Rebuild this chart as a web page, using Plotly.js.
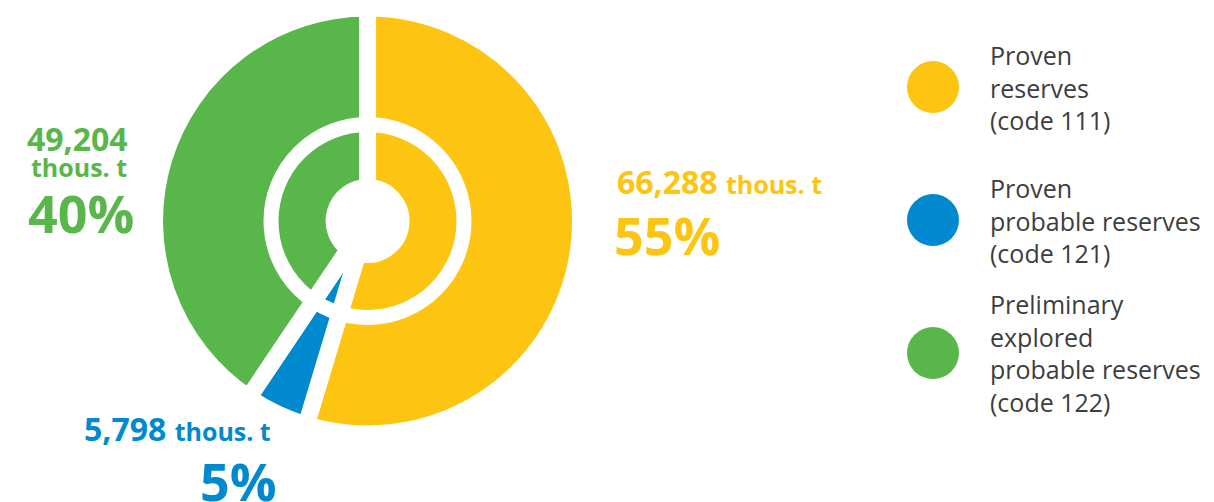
<!DOCTYPE html>
<html><head><meta charset="utf-8">
<script src="https://cdn.plot.ly/plotly-3.0.1.min.js"></script>
<style>html,body{margin:0;padding:0;background:#fff}#chart{width:1214px;height:502px}</style>
</head><body><div id="chart"></div>
<script>
const categories = ["Proven<br>reserves<br>(code 111)", "Proven<br>probable reserves<br>(code 121)", "Preliminary<br>explored<br>probable reserves<br>(code 122)"];
const valuesThousT = [66288, 5798, 49204];
const percents = [55, 5, 40];
const colors = ["#FEC412", "#0089CF", "#59B64B"];
const unit = "thous. t";

const fmt = v => v.toLocaleString("en-US");
const W = 1214, H = 502;
const px = x => x / W, py = y => 1 - y / H;

const pie = {
  type: "pie",
  values: valuesThousT,
  labels: categories,
  sort: false,
  direction: "clockwise",
  rotation: 0,
  hole: 0.157,
  textinfo: "none",
  hoverinfo: "none",
  showlegend: false,
  marker: { colors: colors, line: { color: "#ffffff", width: 17 } },
  domain: { x: [0.1273, 0.4782], y: [0.1355, 0.9841] }
};

const legendPts = {
  type: "scatter",
  mode: "markers",
  x: categories.map(() => 0),
  y: categories.map((c, i) => i),
  marker: { color: colors, size: 52 },
  hoverinfo: "none",
  showlegend: false,
  cliponaxis: false,
  xaxis: "x", yaxis: "y"
};

const F = "'Open Sans', 'Noto Sans', sans-serif";
const annotations = [];
// legend texts
categories.forEach((c, i) => {
  annotations.push({
    xref: "x", yref: "y", x: 0, y: i, xanchor: "left", yanchor: "middle",
    xshift: 55, text: c, align: "left", showarrow: false,
    font: { family: F, size: 25, color: "#3d3d3d" }
  });
});
// value labels
// yellow
annotations.push({ xref: "paper", yref: "paper", x: px(615), y: py(181), xanchor: "left", yanchor: "middle", showarrow: false,
  text: `<b>${fmt(valuesThousT[0])}</b> <b><span style="font-size:25px">${unit}</span></b>`,
  font: { family: F, size: 32, color: colors[0] } });
annotations.push({ xref: "paper", yref: "paper", x: px(612), y: py(234), xanchor: "left", yanchor: "middle", showarrow: false,
  text: `<b>${percents[0]}%</b>`, font: { family: F, size: 52, color: colors[0] } });
// green
annotations.push({ xref: "paper", yref: "paper", x: px(77), y: py(138), xanchor: "center", yanchor: "middle", showarrow: false,
  text: `<b>${fmt(valuesThousT[2])}</b>`, font: { family: F, size: 32, color: colors[2] } });
annotations.push({ xref: "paper", yref: "paper", x: px(79), y: py(167), xanchor: "center", yanchor: "middle", showarrow: false,
  text: `<b>${unit}</b>`, font: { family: F, size: 25, color: colors[2] } });
annotations.push({ xref: "paper", yref: "paper", x: px(81), y: py(212), xanchor: "center", yanchor: "middle", showarrow: false,
  text: `<b>${percents[2]}%</b>`, font: { family: F, size: 52, color: colors[2] } });
// blue
annotations.push({ xref: "paper", yref: "paper", x: px(82), y: py(428), xanchor: "left", yanchor: "middle", showarrow: false,
  text: `<b>${fmt(valuesThousT[1])}</b> <b><span style="font-size:25px">${unit}</span></b>`,
  font: { family: F, size: 32, color: colors[1] } });
annotations.push({ xref: "paper", yref: "paper", x: px(238), y: py(480), xanchor: "center", yanchor: "middle", showarrow: false,
  text: `<b>${percents[1]}%</b>`, font: { family: F, size: 52, color: colors[1] } });

const layout = {
  width: W, height: H,
  margin: { l: 0, r: 0, t: 0, b: 0 },
  paper_bgcolor: "#ffffff", plot_bgcolor: "rgba(0,0,0,0)",
  showlegend: false,
  xaxis: { domain: [850 / W, 1], range: [-1, 3.386], visible: false, fixedrange: true },
  yaxis: { domain: [0.1643, 0.959], range: [2.5, -0.5], visible: false, fixedrange: true },
  shapes: [{
    type: "circle", layer: "above",
    xref: "paper", yref: "paper", xsizemode: "pixel", ysizemode: "pixel",
    xanchor: px(367.5), yanchor: py(221),
    x0: -96.5, x1: 96.5, y0: -96.5, y1: 96.5,
    line: { color: "#ffffff", width: 15 }, fillcolor: "rgba(0,0,0,0)"
  }],
  annotations: annotations
};

Plotly.newPlot("chart", [pie, legendPts], layout, { displayModeBar: false, staticPlot: true });
</script>
</body></html>
